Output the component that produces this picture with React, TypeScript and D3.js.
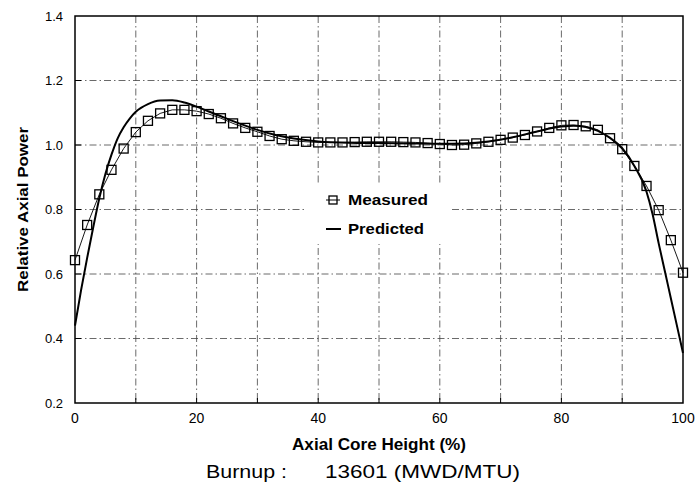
import React from "react";
import * as d3 from "d3";

const measuredX = [0,2,4,6,8,10,12,14,16,18,20,22,24,26,28,30,32,34,36,38,40,42,44,46,48,50,52,54,56,58,60,62,64,66,68,70,72,74,76,78,80,82,84,86,88,90,92,94,96,98,100];
const measuredY = [0.643,0.752,0.847,0.923,0.989,1.040,1.075,1.098,1.109,1.109,1.105,1.096,1.083,1.067,1.053,1.041,1.028,1.018,1.013,1.010,1.008,1.008,1.008,1.009,1.010,1.010,1.010,1.009,1.008,1.006,1.003,1.000,1.001,1.005,1.010,1.016,1.023,1.031,1.042,1.053,1.061,1.062,1.058,1.047,1.021,0.987,0.935,0.873,0.798,0.705,0.604];

const predictedX = [0,1,2,3,4,5,6,7,8,9,10,12,14,16,18,20,22,24,26,28,30,33,36,40,45,50,55,60,64,68,72,76,80,82,84,86,88,90,92,94,95,96,97,98,99,100];
const predictedY = [0.44,0.55,0.65,0.745,0.835,0.91,0.97,1.02,1.055,1.082,1.103,1.127,1.138,1.139,1.132,1.119,1.104,1.089,1.074,1.06,1.047,1.031,1.02,1.011,1.007,1.006,1.005,1.004,1.005,1.011,1.024,1.042,1.057,1.06,1.056,1.044,1.022,0.99,0.935,0.855,0.785,0.695,0.61,0.525,0.44,0.355];

const xTickLabels = [0,20,40,60,80,100];
const xGridValues = [10,20,30,40,50,60,70,80,90];
const yTickLabels = [0.2,0.4,0.6,0.8,1.0,1.2,1.4];
const yGridValues = [0.4,0.6,0.8,1.0,1.2];

const legendLabels = ["Measured", "Predicted"];
const xTitle = "Axial Core Height (%)";
const yTitle = "Relative Axial Power";
const burnupLabel = "Burnup :";
const burnupValue = "13601  (MWD/MTU)";

export default function App() {
  const W = 699, H = 495;
  const left = 75, right = 683, top = 16, bottom = 403;
  const x = d3.scaleLinear().domain([0, 100]).range([left, right]);
  const y = d3.scaleLinear().domain([0.2, 1.4]).range([bottom, top]);
  const fmt = d3.format(".1f");
  const font = "'Liberation Sans', Arial, sans-serif";

  const measured = measuredX.map((v, i) => [v, measuredY[i]] as [number, number]);
  const predicted = predictedX.map((v, i) => [v, predictedY[i]] as [number, number]);

  const lineM = d3.line<[number, number]>().x(d => x(d[0])).y(d => y(d[1]));
  const lineP = d3.line<[number, number]>().x(d => x(d[0])).y(d => y(d[1])).curve(d3.curveMonotoneX);

  const sq = 9;
  const grid = { stroke: "#444", strokeWidth: 0.8, strokeDasharray: "7,3,1.5,3" };

  return (
    <svg width={W} height={H} style={{ position: "absolute", left: 0, top: 0, background: "#fff" }}>
      <rect x={0} y={0} width={W} height={H} fill="#fff" />
      {/* grid */}
      {xGridValues.map(v => (
        <line key={"gx" + v} x1={x(v)} x2={x(v)} y1={top} y2={bottom} {...grid} />
      ))}
      {yGridValues.map(v => (
        <line key={"gy" + v} x1={left} x2={right} y1={y(v)} y2={y(v)} {...grid} />
      ))}
      {/* ticks */}
      {xGridValues.map(v => (
        <line key={"tx" + v} x1={x(v)} x2={x(v)} y1={bottom} y2={bottom - 5} stroke="#000" strokeWidth={1} />
      ))}
      {yGridValues.map(v => (
        <line key={"ty" + v} x1={left} x2={left + 6} y1={y(v)} y2={y(v)} stroke="#000" strokeWidth={1} />
      ))}
      {/* legend box */}
      <rect x={305} y={184} width={145} height={60} fill="#fff" />
      {/* predicted */}
      <path d={lineP(predicted) || ""} fill="none" stroke="#000" strokeWidth={2} />
      {/* measured */}
      <path d={lineM(measured) || ""} fill="none" stroke="#000" strokeWidth={0.9} />
      {measured.map((d, i) => (
        <rect key={"m" + i} x={x(d[0]) - sq / 2} y={y(d[1]) - sq / 2} width={sq} height={sq}
          fill="none" stroke="#000" strokeWidth={1.3} />
      ))}
      {/* frame */}
      <rect x={left} y={top} width={right - left} height={bottom - top} fill="none" stroke="#000" strokeWidth={1.5} />
      {/* y tick labels */}
      {yTickLabels.map(v => (
        <text key={"yl" + v} x={left - 12} y={y(v)} dy="0.35em" textAnchor="end" fontFamily={font} fontSize={13} fill="#000">{fmt(v)}</text>
      ))}
      {/* x tick labels */}
      {xTickLabels.map(v => (
        <text key={"xl" + v} x={x(v)} y={418} dy="0.35em" textAnchor="middle" fontFamily={font} fontSize={14} fill="#000">{v}</text>
      ))}
      {/* titles */}
      <text x={(left + right) / 2} y={444} dy="0.35em" textAnchor="middle" fontFamily={font} fontSize={16} fontWeight="bold" fill="#000"
        textLength={174} lengthAdjust="spacingAndGlyphs">{xTitle}</text>
      <text transform={`translate(23, ${(top + bottom) / 2}) rotate(-90)`} textAnchor="middle" dy="0.35em" fontFamily={font} fontSize={15} fontWeight="bold" fill="#000"
        textLength={165} lengthAdjust="spacingAndGlyphs">{yTitle}</text>
      <text x={206} y={472} dy="0.35em" fontFamily={font} fontSize={18} fill="#000" textLength={81} lengthAdjust="spacingAndGlyphs">{burnupLabel}</text>
      <text x={325} y={472} dy="0.35em" fontFamily={font} fontSize={18} fill="#000" textLength={195} lengthAdjust="spacingAndGlyphs">{burnupValue}</text>
      {/* legend */}
      <line x1={326} x2={340} y1={200} y2={200} stroke="#000" strokeWidth={1} />
      <rect x={329} y={196} width={8} height={8} fill="none" stroke="#000" strokeWidth={1.3} />
      <text x={348} y={200} dy="0.35em" fontFamily={font} fontSize={15} fontWeight="bold" fill="#000" textLength={80} lengthAdjust="spacingAndGlyphs">{legendLabels[0]}</text>
      <line x1={326} x2={341} y1={229} y2={229} stroke="#000" strokeWidth={2} />
      <text x={348} y={229} dy="0.35em" fontFamily={font} fontSize={15} fontWeight="bold" fill="#000" textLength={76} lengthAdjust="spacingAndGlyphs">{legendLabels[1]}</text>
    </svg>
  );
}
